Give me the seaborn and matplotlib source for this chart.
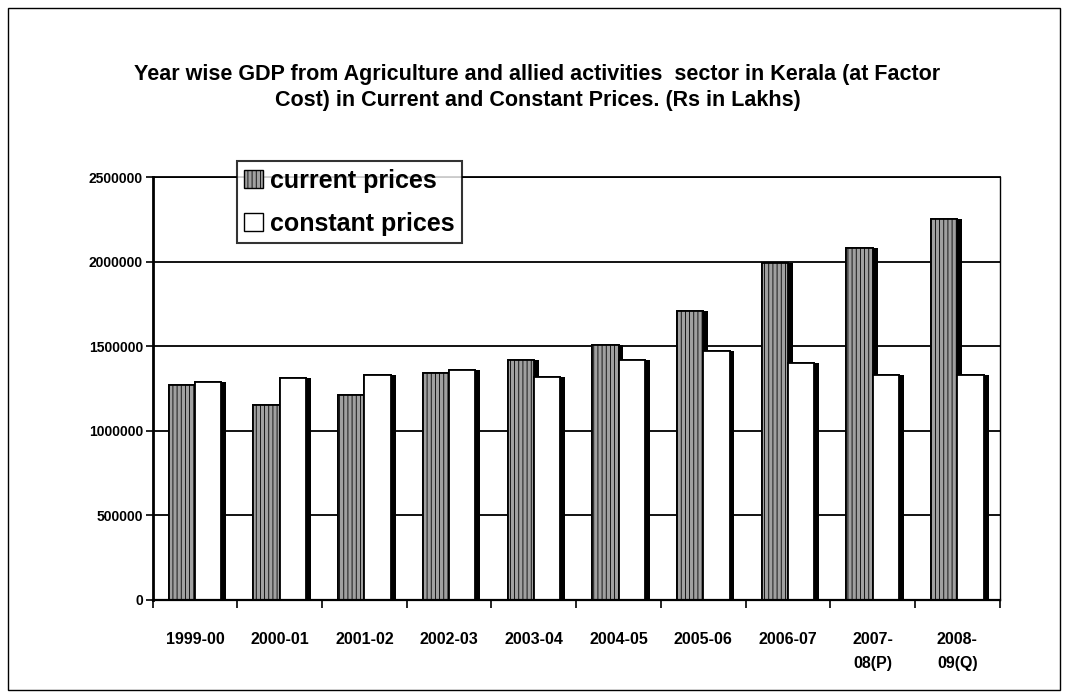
import matplotlib
matplotlib.use("Agg")
import matplotlib.pyplot as plt
import matplotlib.patheffects as pe
from matplotlib.patches import Patch, Rectangle
import seaborn as sns
import pandas as pd
import numpy as np

years = ["1999-00", "2000-01", "2001-02", "2002-03", "2003-04", "2004-05",
         "2005-06", "2006-07", "2007-\n08(P)", "2008-\n09(Q)"]
current_prices = [1270000, 1150000, 1210000, 1340000, 1420000, 1510000,
                  1710000, 1990000, 2080000, 2250000]
constant_prices = [1290000, 1310000, 1330000, 1360000, 1320000, 1420000,
                   1470000, 1400000, 1330000, 1330000]
series_names = ["current prices", "constant prices"]
y_ticks = [0, 500000, 1000000, 1500000, 2000000, 2500000]

df = pd.DataFrame({
    "year": years * 2,
    "value": current_prices + constant_prices,
    "series": [series_names[0]] * len(years) + [series_names[1]] * len(years),
})

sns.set_style("white")
plt.rcParams["font.family"] = ["Liberation Sans", "DejaVu Sans"]
plt.rcParams["text.color"] = "black"
plt.rcParams["xtick.color"] = "black"
plt.rcParams["ytick.color"] = "black"
plt.rcParams["hatch.color"] = "#555555"
plt.rcParams["hatch.linewidth"] = 0.6

fig = plt.figure(figsize=(10.75, 7.0), dpi=100)
ax = fig.add_axes([0.142, 0.143, 0.788, 0.604])

colors = {"current prices": "#a0a0a0", "constant prices": "white"}
sns.barplot(data=df, x="year", y="value", hue="series", palette=colors,
            order=years, hue_order=series_names, width=0.62, ax=ax,
            edgecolor="black", linewidth=1.3, legend=False, saturation=1)

shadow = [pe.withSimplePatchShadow(offset=(3.5, 0), shadow_rgbFace="black", alpha=1.0), pe.Normal()]
for i, cont in enumerate(ax.containers):
    for p in cont:
        if i == 0:
            p.set_hatch("||||")
        p.set_path_effects(shadow)

ax.set_ylim(0, 2500000)
ax.set_xlim(-0.5, len(years) - 0.5)
ax.set_yticks(y_ticks)
ax.set_yticklabels([str(v) for v in y_ticks], fontsize=10, fontweight="bold")
ax.tick_params(axis="y", length=5, width=1.2, direction="out", left=True, pad=2)
ax.set_xticks(range(len(years)))
ax.set_xticklabels(years, fontsize=11.5, fontweight="bold", ha="center", va="top",
                   linespacing=1.75)
ax.tick_params(axis="x", which="major", length=0, pad=23)
ax.set_xticks(np.arange(-0.5, len(years)), minor=True)
ax.tick_params(axis="x", which="minor", length=6, width=1.2, direction="out", bottom=True)
ax.set_xlabel("")
ax.set_ylabel("")

ax.yaxis.grid(True, color="black", linewidth=1.3)
ax.set_axisbelow(True)
for s in ["left", "bottom", "right", "top"]:
    ax.spines[s].set_visible(True)
    ax.spines[s].set_color("black")
ax.spines["left"].set_linewidth(2.0)
ax.spines["bottom"].set_linewidth(1.6)
ax.spines["right"].set_linewidth(1.0)
ax.spines["top"].set_linewidth(1.3)

handles = [Patch(facecolor="#a0a0a0", edgecolor="black", hatch="||||", label=series_names[0]),
           Patch(facecolor="white", edgecolor="black", label=series_names[1])]
leg = ax.legend(handles=handles, loc="upper left", bbox_to_anchor=(0.099, 1.037),
                prop={"size": 18, "weight": "bold"}, frameon=True, fancybox=False,
                borderpad=0.3, handlelength=0.75, handleheight=0.75, handletextpad=0.3,
                labelspacing=0.75, borderaxespad=0)
leg.get_frame().set_edgecolor("black")
leg.get_frame().set_linewidth(1.5)
leg.set_zorder(5)

fig.text(0.5, 1 - 64 / 700,
         "Year wise GDP from Agriculture and allied activities  sector in Kerala (at Factor\n"
         "Cost) in Current and Constant Prices. (Rs in Lakhs)",
         ha="center", va="top", fontsize=15.5, fontweight="bold", linespacing=1.3)

fig.patches.append(Rectangle((8 / 1075, 1 - 690 / 700), 1052 / 1075, 682 / 700,
                             transform=fig.transFigure, fill=False,
                             edgecolor="black", linewidth=1.0))

fig.savefig("out.png", dpi=100, facecolor="white")
